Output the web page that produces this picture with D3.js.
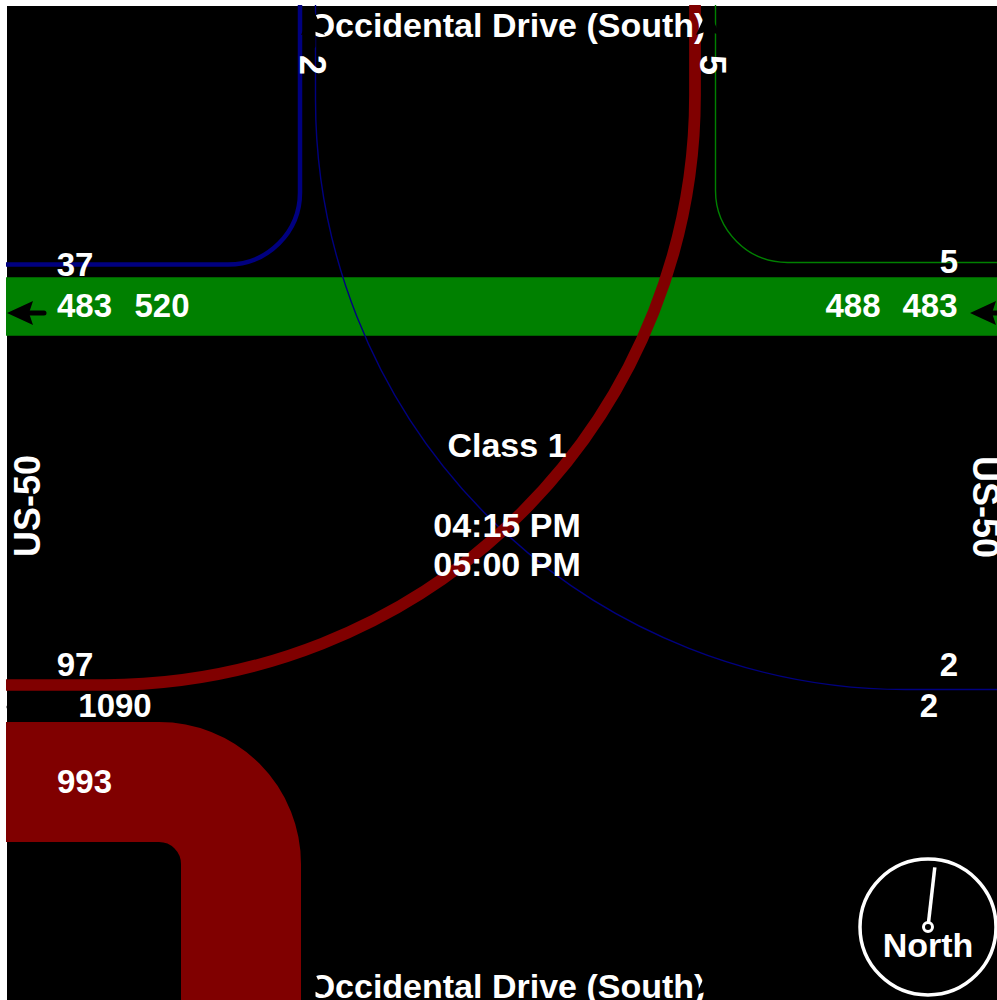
<!DOCTYPE html>
<html lang="en">
<head>
<meta charset="utf-8">
<title>Class 1</title>
<script src="https://d3js.org/d3.v7.min.js"></script>
<style>
  html, body { margin: 0; padding: 0; background: #fff; }
  svg { display: block; }
  text { font-family: "Liberation Sans", Arial, sans-serif; font-weight: bold; font-size: 34px; fill: #fff; text-anchor: middle; dominant-baseline: central; }
  .num { font-size: 33px; }
  .side { font-size: 36px; }
</style>
</head>
<body>
<svg width="997" height="1000"></svg>
<script>
// values
const streetNames = ["Occidental Drive (South)", "US-50"];
const classNames = ["Class 1"];
const timeLabels = ["04:15 PM", "05:00 PM"];
const compassLabel = ["North"];
const northBearing = [6.5];

const flowNames = ["through", "northToEast", "northToWest", "eastToNorth", "westToNorth", "southToWest"];
const flowVolumes = [483, 2, 37, 5, 97, 993];
const flowColors = ["#008000", "#000080", "#000080", "#008000", "#800000", "#800000"];

const westLabels = ["37", "483", "520", "97", "1090", "993"];
const eastLabels = ["5", "488", "483", "2", "2"];
const northLabels = ["2", "5"];

var svg = d3.select("svg");
var width = 997, height = 1000;
var left = 6, top_ = 5;

svg.append("rect").attr("x", 7).attr("y", 6)
  .attr("width", width - 7).attr("height", height - 6).attr("fill", "#000");

var bandWidth = d3.scaleLinear().domain([0, 993]).range([0, 120]);

// route of each flow: start, corner, end, corner radius
function route(name) {
  var p = d3.path();
  function bend(x0, y0, x1, y1, x2, y2, r) {
    p.moveTo(x0, y0);
    p.arcTo(x1, y1, x2, y2, r);
    p.lineTo(x2, y2);
  }
  if (name == "through") { p.moveTo(left, 306.5); p.lineTo(width, 306.5); }
  if (name == "northToEast") bend(315.5, top_, 315.5, 689.5, width, 689.5, 590);
  if (name == "northToWest") bend(left, 264.5, 300, 264.5, 300, top_, 72);
  if (name == "eastToNorth") bend(715.5, top_, 715.5, 262.5, width, 262.5, 72);
  if (name == "westToNorth") bend(left, 685, 695, 685, 695, top_, 590);
  if (name == "southToWest") bend(left, 782, 241, 782, 241, height, 82);
  return p.toString();
}

svg.append("g").selectAll("path")
  .data(flowNames)
  .join("path")
  .attr("d", d => route(d))
  .attr("fill", "none")
  .attr("stroke", (d, i) => flowColors[i])
  .attr("stroke-width", (d, i) => Math.max(1.4, bandWidth(flowVolumes[i])));

function label(txt, x, y, rot, cls) {
  var t = svg.append("text").text(txt);
  if (cls) t.attr("class", cls);
  if (rot) t.attr("transform", `translate(${x},${y}) rotate(${rot})`);
  else t.attr("x", x).attr("y", y);
  return t;
}

// street names
label(streetNames[0], 507, 25);
label(streetNames[0], 507, 986);
label(streetNames[1], 27, 506, -90, "side");
label(streetNames[1], 985, 507, 90, "side");

// west side
label(westLabels[0], 75, 264, 0, "num");
label(westLabels[1], 84.5, 305, 0, "num");
label(westLabels[2], 162, 305, 0, "num");
label(westLabels[3], 75, 664, 0, "num");
label(westLabels[4], 115, 705, 0, "num");
label(westLabels[5], 84.5, 781, 0, "num");

// east side
label(eastLabels[0], 949, 261, 0, "num");
label(eastLabels[1], 853, 305, 0, "num");
label(eastLabels[2], 930, 305, 0, "num");
label(eastLabels[3], 949, 664, 0, "num");
label(eastLabels[4], 929, 705, 0, "num");

// north side
label(northLabels[0], 312, 65, 90, "side");
label(northLabels[1], 712, 65, 90, "side");

// centre
label(classNames[0], 507, 445);
label(timeLabels[0], 507, 525);
label(timeLabels[1], 507, 564);

// direction arrows, tip at local 0,0 pointing left
function arrow(x, y, rot) {
  var g = svg.append("g")
    .attr("transform", `translate(${x},${y}) rotate(${rot})`);
  g.append("path")
    .attr("d", "M0,0L26,-12L22,0L26,12Z")
    .attr("fill", "#000");
  g.append("line")
    .attr("x1", 15).attr("x2", 37)
    .attr("stroke", "#000").attr("stroke-width", 5)
    .attr("stroke-linecap", "round");
}
arrow(7, 313, 0);
arrow(970, 313, 0);
arrow(46, 707, 180);
arrow(1010, 707, 180);
arrow(313, 9, 90);
arrow(708, 9, 90);
arrow(313, 969, 90);
arrow(708, 969, 90);

// compass
var compass = svg.append("g").attr("transform", "translate(928,927)");
compass.append("circle").attr("r", 68)
  .attr("fill", "none").attr("stroke", "#fff").attr("stroke-width", 3.5);
compass.append("line")
  .attr("y1", -4).attr("y2", -60)
  .attr("transform", `rotate(${northBearing[0]})`)
  .attr("stroke", "#fff").attr("stroke-width", 3.5);
compass.append("circle").attr("r", 4.5)
  .attr("fill", "none").attr("stroke", "#fff").attr("stroke-width", 3);
label(compassLabel[0], 928, 945);
</script>
</body>
</html>
